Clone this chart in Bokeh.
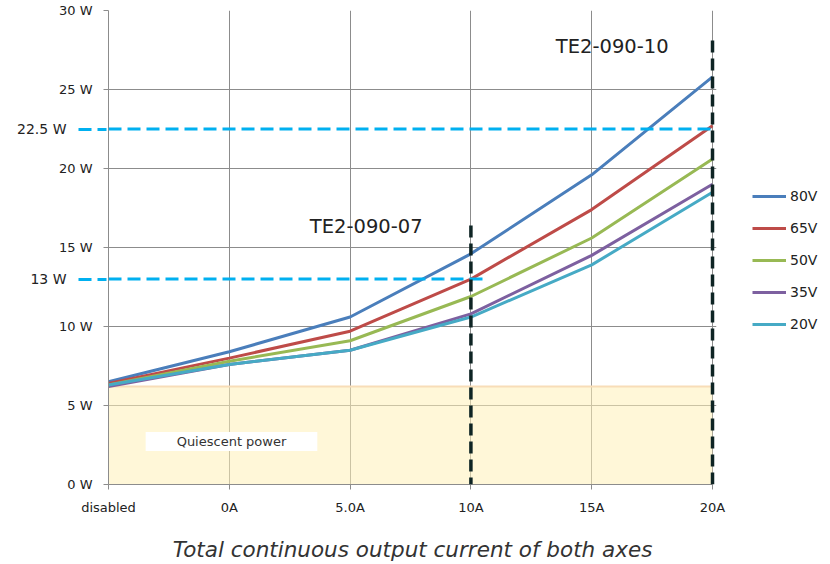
from bokeh.plotting import figure
from bokeh.models import (Legend, LegendItem, Label, Arrow, FixedTicker, Range1d,
                          LinearAxis)
from bokeh.embed import file_html
from bokeh.resources import INLINE

# ---- data ----
categories = ["disabled", "0A", "5.0A", "10A", "15A", "20A"]
series_names = ["80V", "65V", "50V", "35V", "20V"]
v80 = [6.5, 8.4, 10.6, 14.6, 19.6, 25.8]
v65 = [6.4, 8.0, 9.7, 13.0, 17.4, 22.7]
v50 = [6.3, 7.8, 9.1, 11.9, 15.6, 20.6]
v35 = [6.2, 7.6, 8.5, 10.8, 14.5, 19.0]
v20 = [6.3, 7.6, 8.5, 10.6, 13.9, 18.5]
series_values = [v80, v65, v50, v35, v20]
series_colors = ["#4A7EBB", "#BE4B48", "#98B954", "#7D60A0", "#46AAC5"]
y_ticks = [0, 5, 10, 15, 20, 25, 30]
quiescent_power = 6.2
limit_07 = 13.0
limit_10 = 22.5
limit_ticks = [limit_07, limit_10]
limit_labels = {limit_07: "13 W", limit_10: "22.5 W"}
model_07 = "TE2-090-07"
model_10 = "TE2-090-10"
model_07_x = 3   # index of 10A
model_10_x = 5   # index of 20A

FONT = "DejaVu Sans"
GRID = "#8C8C8C"
CYAN = "#00B0F0"

p = figure(frame_width=608, frame_height=474, output_backend="svg",
           toolbar_location=None,
           x_range=Range1d(0, 5.033), y_range=Range1d(0, 30),
           min_border_left=108, min_border_right=106, min_border_top=10,
           min_border_bottom=78)
p.outline_line_color = None
p.background_fill_color = "white"

# grid
p.xgrid.ticker = FixedTicker(ticks=list(range(len(categories))))
p.ygrid.ticker = FixedTicker(ticks=y_ticks)
for g in (p.xgrid, p.ygrid):
    g.grid_line_color = GRID
    g.grid_line_width = 1

# axes
p.xaxis.ticker = FixedTicker(ticks=list(range(len(categories))))
p.xaxis.major_label_overrides = {i: c for i, c in enumerate(categories)}
p.xaxis.bounds = (0, 5)
p.yaxis.ticker = FixedTicker(ticks=y_ticks)
p.yaxis.major_label_overrides = {t: f"{t} W" for t in y_ticks}
for ax in (p.xaxis, p.yaxis):
    ax.axis_line_color = GRID
    ax.major_tick_line_color = GRID
    ax.major_tick_out = 5
    ax.major_tick_in = 0
    ax.minor_tick_line_color = None
    ax.major_label_text_font = FONT
    ax.major_label_text_font_size = "13px"
    ax.major_label_text_color = "#222222"
p.xaxis.major_label_standoff = 10
p.yaxis.major_label_standoff = 11
p.xaxis.axis_label = "Total continuous output current of both axes"
p.xaxis.axis_label_text_font = FONT
p.xaxis.axis_label_text_font_style = "italic"
p.xaxis.axis_label_text_font_size = "21.5px"
p.xaxis.axis_label_text_color = "#333333"
p.xaxis.axis_label_standoff = 19

# extra left axis for the power limits (labels + dashed extension)
lim_axis = LinearAxis(ticker=FixedTicker(ticks=limit_ticks),
                      major_label_overrides=limit_labels)
lim_axis.axis_line_color = None
lim_axis.minor_tick_line_color = None
lim_axis.major_tick_out = 0
lim_axis.major_tick_in = 51
lim_axis.major_tick_line_color = CYAN
lim_axis.major_tick_line_width = 3
lim_axis.major_tick_line_dash = "0 23 13 6 13 60"
lim_axis.major_label_standoff = -11
lim_axis.major_label_text_font = FONT
lim_axis.major_label_text_font_size = "14px"
lim_axis.major_label_text_color = "#222222"
p.add_layout(lim_axis, "left")

# quiescent power area
xs = list(range(len(categories)))
p.varea(x=xs, y1=[0] * len(xs), y2=[quiescent_power] * len(xs),
        fill_color="#FFF0B8", fill_alpha=0.55)
p.line(x=xs, y=[quiescent_power] * len(xs), line_color="#F8DDB8", line_width=2)

# series
items = []
for name, vals, col in zip(series_names, series_values, series_colors):
    r = p.line(x=xs, y=vals, line_color=col, line_width=3)
    items.append(LegendItem(label=name, renderers=[r]))

# limit lines (cyan dashed)
p.add_layout(Arrow(end=None, start=None, x_start=0, y_start=limit_10,
                   x_end=5, y_end=limit_10, line_color=CYAN,
                   line_width=3, line_dash="13 6"))
p.add_layout(Arrow(end=None, start=None, x_start=0, y_start=limit_07,
                   x_end=3.14, y_end=limit_07, line_color=CYAN,
                   line_width=3, line_dash="13 6"))
# model vertical lines (black dashed)
p.add_layout(Arrow(end=None, start=None, x_start=model_07_x, y_start=16.4,
                   x_end=model_07_x, y_end=0, line_color="#0E2424",
                   line_width=3.5, line_dash="12 6"))
p.add_layout(Arrow(end=None, start=None, x_start=model_10_x, y_start=28.1,
                   x_end=model_10_x, y_end=0, line_color="#0E2424",
                   line_width=3.5, line_dash="12 6"))

# labels
p.add_layout(Label(x=2.6, y=16.3, text=model_07, text_align="right",
                   text_baseline="middle", text_font=FONT,
                   text_font_size="19.5px", text_color="#222222"))
p.add_layout(Label(x=4.636, y=27.7, text=model_10, text_align="right",
                   text_baseline="middle", text_font=FONT,
                   text_font_size="19.5px", text_color="#222222"))
p.add_layout(Label(x=1.018, y=2.72, text="Quiescent power", text_align="center",
                   text_baseline="middle", text_font=FONT,
                   text_font_size="13px", text_color="#333333",
                   background_fill_color="white", padding=(31, 2)))

legend = Legend(items=items, location=(36, 150), orientation="vertical",
                border_line_color=None, background_fill_alpha=0,
                padding=0, margin=0, spacing=12, glyph_width=34,
                glyph_height=20, label_height=20, label_standoff=4,
                label_text_font=FONT, label_text_font_size="14px",
                label_text_color="#222222")
p.add_layout(legend, "right")

open("out.html", "w").write(file_html(p, INLINE))
